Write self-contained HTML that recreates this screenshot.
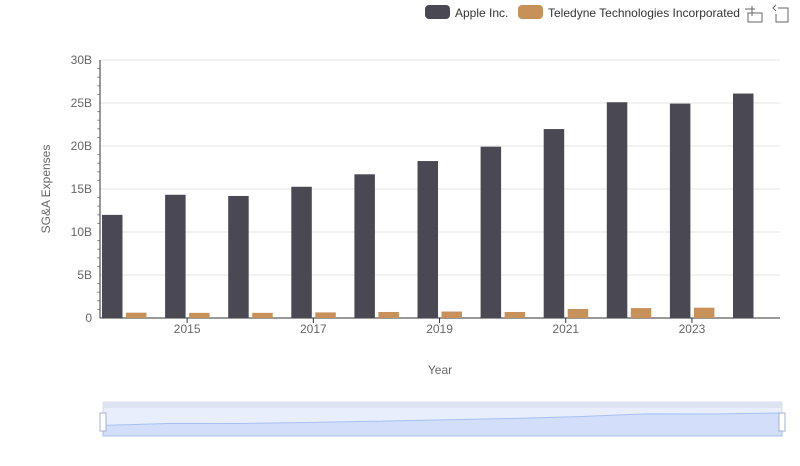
<!DOCTYPE html>
<html><head><meta charset="utf-8"><style>
body{margin:0;background:#fff;font-family:"Liberation Sans",sans-serif}
svg text{font-family:"Liberation Sans",sans-serif}
</style></head><body>
<svg id="c" width="800" height="461">
<g>
<g><rect x="425" y="5" width="25" height="14" rx="4" fill="#4a4953"/><text x="455" y="17" font-size="12" fill="#333">Apple Inc.</text></g>
<g><rect x="518" y="5" width="25" height="14" rx="4" fill="#c8915a"/><text x="548" y="17" font-size="12" fill="#333">Teledyne Technologies Incorporated</text></g>
<g stroke="#666" fill="none"><path d="M748 13h14v9h-14zM752 6v10M745 9h10" stroke-width="1"/></g>
<g stroke="#666" fill="none"><path d="M778 8h10v14h-12v-8M776 11l-3 -3l3 -3" stroke-width="1"/></g>
</g>
<g id="grid"></g>
<g id="bars"></g>
<g id="axes"></g>
<text x="50" y="189" font-size="12" fill="#666" text-anchor="middle" transform="rotate(-90 50 189)">SG&amp;A Expenses</text>
<text x="440" y="374" font-size="12" fill="#666" text-anchor="middle">Year</text>
<g>
<rect x="103" y="402" width="679" height="34" fill="#e8eefb" stroke="#d5dcea"/>
<rect x="103" y="402" width="679" height="6" fill="#dde3f1"/>
<path id="sl" fill="#d2defa" stroke="#a7c0f2"/>
<rect x="100" y="413" width="6" height="18" fill="#fff" stroke="#a6b1c8"/>
<rect x="779" y="413" width="6" height="18" fill="#fff" stroke="#a6b1c8"/>
</g>
</svg>
<script>
const years=[2014,2015,2016,2017,2018,2019,2020,2021,2022,2023,2024];
const apple=[11.99,14.33,14.19,15.26,16.71,18.25,19.92,21.97,25.09,24.93,26.10];
const teledyne=[0.62,0.6,0.6,0.65,0.7,0.75,0.7,1.05,1.15,1.2,null];
const yTicks=[0,5,10,15,20,25,30];
const xLabels=[2015,2017,2019,2021,2023];
const NS="http://www.w3.org/2000/svg";
const x0=92.5,bw=63.1,y0=318,yMax=30,ph=258;
const y=v=>y0-v/yMax*ph;
const bx=i=>x0+i*bw;
function mk(t,a,p){const e=document.createElementNS(NS,t);for(const k in a)e.setAttribute(k,a[k]);p.appendChild(e);return e;}
const G=document.getElementById('grid'),B=document.getElementById('bars'),A=document.getElementById('axes');
yTicks.forEach(t=>{
 const l=mk('line',{x1:100,x2:780,y1:y(t),y2:y(t),stroke:t?'#e6e6e6':'#333'},G);
 
 
 const tx=mk('text',{x:92,y:y(t)+4,'font-size':12,fill:'#666','text-anchor':'end'},A);
 tx.textContent=t?t+'B':'0';
 
 
});
for(let v=0;v<=30;v+=1){if(v%5)mk('line',{x1:97,x2:100,y1:y(v),y2:y(v),stroke:'#999'},A);}
mk('line',{x1:100,x2:100,y1:60,y2:318,stroke:'#333'},A);
years.forEach((yr,i)=>{
 const a=mk('rect',{x:bx(i)+9.5,y:y(apple[i]),width:20.5,height:y0-y(apple[i]),fill:'#4a4953'},B);
 
 
 if(teledyne[i]!=null){
 const t=mk('rect',{x:bx(i)+33.5,y:y(teledyne[i]),width:20.5,height:y0-y(teledyne[i]),fill:'#c8915a'},B);
 
 }
 if(xLabels.includes(yr)){
 const c=bx(i)+bw/2;
 mk('line',{x1:c,x2:c,y1:318,y2:323,stroke:'#333'},A);
 const tx=mk('text',{x:c,y:333,'font-size':12,fill:'#666','text-anchor':'middle'},A);
 tx.textContent=yr;
 
 }
});
let d='M103 436';
apple.forEach((v,i)=>{d+=' L'+(103+i*679/(apple.length-1))+' '+(436-v/26.1*23);});
d+=' L782 436Z';
document.getElementById('sl').setAttribute('d',d);
</script>
</body></html>
